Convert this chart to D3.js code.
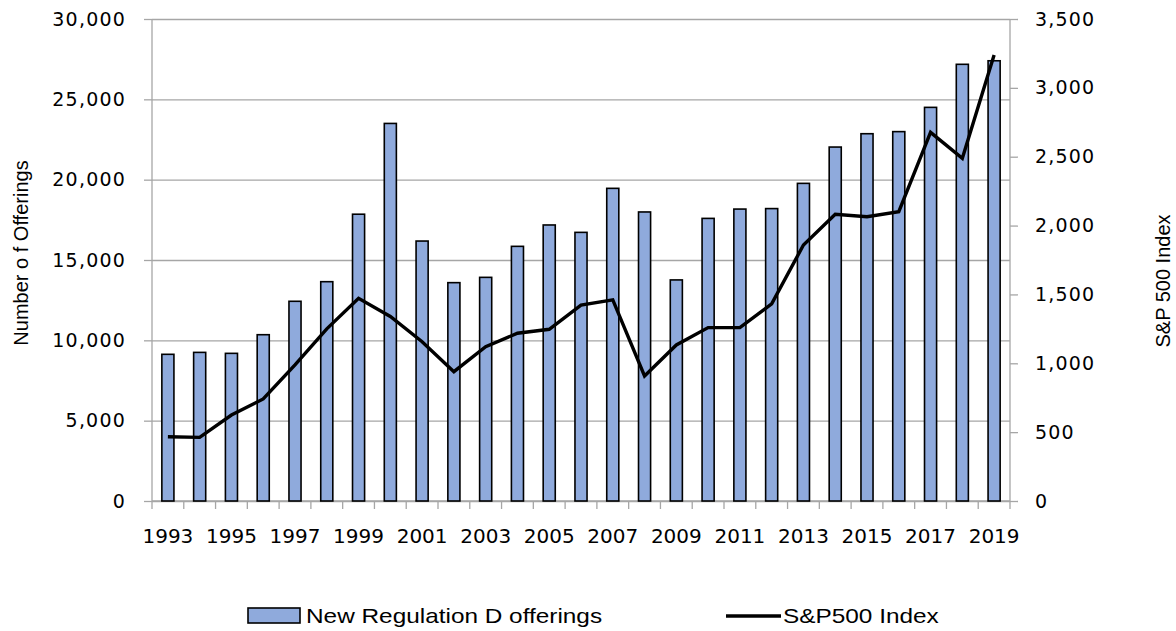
<!DOCTYPE html>
<html>
<head>
<meta charset="utf-8">
<script src="https://cdn.jsdelivr.net/npm/d3@7"></script>
<style>
  body { margin: 0; background: #fff; }
  .grid line { stroke: #a6a6a6; stroke-width: 1.3; }
  .grid path { display: none; }
  .axis path, .axis line { stroke: #a6a6a6; stroke-width: 1.3; }
  .ticklbl { font-family: "DejaVu Sans", sans-serif; font-size: 19px; letter-spacing: 1.2px; fill: #000; }
  .xlbl { font-family: "DejaVu Sans", sans-serif; font-size: 20px; fill: #000; }
  .ttl { font-family: "Liberation Sans", sans-serif; font-size: 20px; fill: #000; }
  .leg { font-size: 21px; }
</style>
</head>
<body>
<div id="grafico"></div>
<script>
// data
var years = [1993,1994,1995,1996,1997,1998,1999,2000,2001,2002,2003,2004,2005,2006,
             2007,2008,2009,2010,2011,2012,2013,2014,2015,2016,2017,2018,2019];
var offerings = [9130,9250,9190,10350,12430,13650,17850,23500,16180,13590,13920,15850,17180,16720,
                 19460,17990,13760,17590,18170,18200,19770,22030,22860,22990,24500,27180,27400];
var sp500 = [467,462,624,741,988,1250,1472,1340,1157,939,1121,1218,1247,1423,
             1460,908,1133,1259,1259,1431,1859,2082,2064,2101,2677,2488,3239];
var leftTicks = [0,5000,10000,15000,20000,25000,30000];
var rightTicks = [0,500,1000,1500,2000,2500,3000,3500];
var seriesNames = ["New Regulation D offerings", "S&P500 Index"];

var W = 1176, H = 631;
var margin = {top: 19, right: 166, bottom: 130, left: 152},
    width = W - margin.left - margin.right,
    height = H - margin.top - margin.bottom;

var fmt = d3.format(",");

// legend text looks wider in the picture, stretch glyphs a bit
function stretch(sel, k) {
  sel.each(function() {
    var len = this.getComputedTextLength();
    d3.select(this).attr("textLength", len * k).attr("lengthAdjust", "spacingAndGlyphs");
  });
}

var svg = d3.select("#grafico").append("svg")
    .attr("width", W)
    .attr("height", H)
  .append("g")
    .attr("transform", "translate(" + margin.left + "," + margin.top + ")");

var x = d3.scaleBand().domain(years).range([0, width]).paddingInner(0.62).paddingOuter(0.31);
var y = d3.scaleLinear().domain([0, 30000]).range([height, 0]);
var y2 = d3.scaleLinear().domain([0, 3500]).range([height, 0]);

// gridlines
svg.append("g")
    .attr("class", "grid")
    .call(d3.axisLeft(y).tickValues(leftTicks).tickSize(-width).tickFormat(""));

// left axis
var gl = svg.append("g")
    .attr("class", "axis")
    .call(d3.axisLeft(y).tickValues(leftTicks).tickSize(8).tickPadding(18).tickFormat(fmt));
gl.selectAll("text").attr("class", "ticklbl");
gl.select("path").attr("d", "M0," + height + "V0");

// right axis
var gr = svg.append("g")
    .attr("class", "axis")
    .attr("transform", "translate(" + width + ",0)")
    .call(d3.axisRight(y2).tickValues(rightTicks).tickSize(8).tickPadding(17).tickFormat(fmt));
gr.selectAll("text").attr("class", "ticklbl");
gr.select("path").attr("d", "M0," + height + "V0");

// bottom axis: labels on odd years, ticks on category boundaries
var gx = svg.append("g")
    .attr("class", "axis")
    .attr("transform", "translate(0," + height + ")")
    .call(d3.axisBottom(x)
      .tickValues(years.filter(function(d) { return (d - years[0]) % 2 === 0; }))
      .tickSize(0).tickPadding(42));
gx.selectAll("text").attr("class", "xlbl").attr("dy", "0");
gx.select("path").attr("d", "M0,0H" + width);

var half = (x.step() - x.bandwidth()) / 2;
var bounds = years.map(function(d) { return x(d) - half; }).concat([width]);
gx.selectAll(".bnd").data(bounds).enter().append("line")
    .attr("class", "bnd")
    .attr("x1", function(d) { return d; })
    .attr("x2", function(d) { return d; })
    .attr("y1", 0).attr("y2", 8);

// bars
svg.selectAll(".bar").data(years).enter().append("rect")
    .attr("class", "bar")
    .attr("x", function(d) { return x(d); })
    .attr("width", x.bandwidth())
    .attr("y", function(d, i) { return y(offerings[i]); })
    .attr("height", function(d, i) { return height - y(offerings[i]); })
    .style("fill", "#8faadc")
    .style("stroke", "#000")
    .style("stroke-width", 1.6);

// S&P line
var valueline = d3.line()
    .x(function(d, i) { return x(years[i]) + x.bandwidth() / 2; })
    .y(function(d) { return y2(d); });

svg.append("path")
    .datum(sp500)
    .attr("d", valueline)
    .style("fill", "none")
    .style("stroke", "#000")
    .style("stroke-width", 3.4)
    .style("stroke-linejoin", "miter");

// axis titles
svg.append("text")
    .attr("class", "ttl")
    .attr("transform", "translate(" + (-124) + "," + (height / 2 - 7) + ") rotate(-90)")
    .attr("text-anchor", "middle")
    .text("Number o f Offerings");

svg.append("text")
    .attr("class", "ttl")
    .attr("transform", "translate(" + (width + 160) + "," + (height / 2 + 21) + ") rotate(-90)")
    .attr("text-anchor", "middle")
    .text("S&P 500 Index");

// legend
var lg = svg.append("g").attr("transform", "translate(0," + (height + 115) + ")");
lg.append("rect")
    .attr("x", 96).attr("y", -8)
    .attr("width", 52).attr("height", 15)
    .style("fill", "#8faadc").style("stroke", "#000").style("stroke-width", 1.6);
lg.append("text").attr("class", "ttl leg")
    .attr("x", 154).attr("y", 7).text(seriesNames[0]);
lg.append("line")
    .attr("x1", 574).attr("x2", 629).attr("y1", 0).attr("y2", 0)
    .style("stroke", "#000").style("stroke-width", 3.4);
lg.append("text").attr("class", "ttl leg")
    .attr("x", 631).attr("y", 7).text(seriesNames[1]);

stretch(d3.selectAll(".leg"), 1.16);
</script>
</body>
</html>
